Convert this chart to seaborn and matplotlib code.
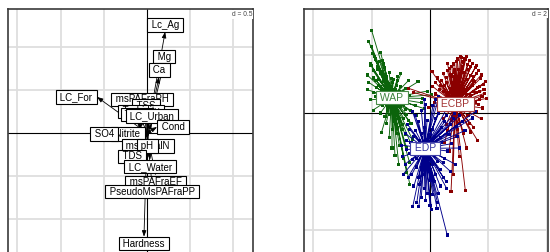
import numpy as np
import pandas as pd
import matplotlib
matplotlib.use("Agg")
import matplotlib.pyplot as plt
import matplotlib.colors as mcolors
import seaborn as sns

# ---------------- data: left panel (variable loadings) ----------------
var_names = ["Lc_Ag", "Mg", "Ca", "LC_For", "msPAFraPH", "TSS", "Turbidity", "Temp",
             "LC_Urban", "Cond", "Nitrite", "SO4", "msMetalN", "pH", "TDS",
             "LC_Water", "msPAFraEF", "PseudoMsPAFraPP", "Hardness"]
var_x = [0.21, 0.197, 0.139, -0.579, -0.058, -0.01, -0.07, -0.12,
         0.058, 0.116, -0.023, -0.33, 0.012, 0.005, -0.17,
         0.035, 0.10, 0.058, -0.035]
var_y = [1.17, 0.80, 0.648, 0.417, 0.31, 0.235, 0.17, 0.13,
         0.116, 0.069, -0.012, -0.012, -0.07, -0.07, -0.19,
         -0.31, -0.49, -0.60, -1.20]

# ---------------- data: right panel (site scores by group) ----------------
wap_points = [
    (-2.00, 2.83), (-2.10, 2.45), (-2.00, 2.28), (-1.69, 2.07), (-1.62, 1.80), (-1.90, 1.95),
    (-2.05, 1.70), (-1.80, 1.60), (-1.55, 1.55), (-1.95, 1.45), (-2.15, 1.30), (-1.70, 1.35),
    (-1.40, 1.40), (-1.00, 1.34), (-1.10, 1.24), (-0.41, 1.07), (-0.75, 1.10), (-1.25, 1.15),
    (-2.10, 1.05), (-1.85, 1.10), (-1.50, 1.00), (-1.15, 0.95), (-0.85, 0.85), (-2.15, 0.80),
    (-1.95, 0.70), (-1.65, 0.80), (-1.40, 0.70), (-1.05, 0.65), (-0.70, 0.60), (-0.25, 0.50),
    (-2.05, 0.45), (-1.80, 0.35), (-1.55, 0.40), (-1.20, 0.35), (-0.90, 0.30), (-0.50, 0.25),
    (-0.20, 0.15), (-1.95, 0.10), (-1.70, 0.00), (-1.45, 0.10), (-1.10, 0.05), (-0.80, -0.05),
    (-0.45, -0.10), (-1.66, -0.66), (-1.50, -0.35), (-1.25, -0.30), (-0.95, -0.40), (-0.65, -0.35),
    (-1.40, -0.85), (-1.15, -0.70), (-0.85, -0.75), (-1.30, -1.20), (-1.05, -1.10), (-0.80, -1.20),
    (-1.07, -1.76), (-0.90, -1.55), (-0.70, -1.70), (-0.69, -2.45), (-0.80, -2.05), (-1.20, -1.45),
    (0.05, 0.62), (-0.10, 0.75), (-1.60, 1.20), (-1.35, 0.90), (-1.75, 0.95), (-1.30, 0.55),
    (-1.00, 0.90), (-1.85, 0.55), (-1.45, 0.20), (-1.20, -0.10),
    (-1.88, 1.85), (-1.72, 1.75), (-1.58, 1.68), (-1.78, 1.50), (-1.62, 1.42), (-1.48, 1.25),
    (-1.33, 1.18), (-1.92, 1.20), (-1.76, 1.15), (-1.60, 1.08), (-1.44, 1.02), (-1.28, 1.05),
    (-1.12, 1.12), (-1.84, 0.88), (-1.68, 0.92), (-1.52, 0.85), (-1.36, 0.78), (-1.20, 0.82),
    (-1.04, 0.75), (-0.88, 0.70), (-1.74, 0.58), (-1.58, 0.62), (-1.42, 0.55), (-1.26, 0.48),
    (-1.10, 0.52), (-0.94, 0.45), (-0.78, 0.40), (-1.64, 0.25), (-1.48, 0.30), (-1.32, 0.20),
    (-1.16, 0.18), (-1.00, 0.22), (-0.84, 0.12), (-0.68, 0.10), (-1.54, -0.12), (-1.38, -0.05),
    (-1.22, -0.15), (-1.06, -0.20), (-0.90, -0.18), (-0.74, -0.25), (-1.28, -0.55), (-1.12, -0.50),
    (-0.96, -0.58), (-0.60, -0.90), (-0.55, -1.30), (-0.30, 0.35), (-2.02, 1.62), (-1.98, 2.05),
]

ecbp_points = [
    (1.03, 1.93), (1.20, 1.85), (1.35, 1.80), (1.55, 1.55), (1.45, 1.70), (0.90, 1.75),
    (0.75, 1.60), (1.90, 1.07), (1.75, 1.30), (1.65, 1.45), (0.07, 1.41), (0.25, 1.20),
    (0.45, 1.35), (0.60, 1.45), (1.10, 1.60), (1.30, 1.50), (1.50, 1.25), (1.85, 0.80),
    (1.95, 0.50), (1.80, 0.17), (1.70, 0.45), (0.35, 0.95), (0.55, 1.05), (0.80, 1.25),
    (1.05, 1.30), (1.25, 1.15), (1.45, 0.95), (1.60, 0.70), (0.20, 0.65), (0.45, 0.75),
    (0.70, 0.85), (0.95, 0.95), (1.20, 0.80), (1.40, 0.60), (1.55, 0.35), (0.15, 0.35),
    (0.40, 0.40), (0.65, 0.50), (0.90, 0.60), (1.15, 0.50), (1.35, 0.25), (1.60, 0.05),
    (-0.05, 0.20), (0.30, 0.10), (0.55, 0.15), (0.80, 0.20), (1.05, 0.10), (1.30, -0.10),
    (0.45, -0.20), (0.75, -0.25), (1.00, -0.35), (1.62, -0.93), (1.40, -0.65), (1.15, -0.70),
    (0.90, -0.80), (0.60, -0.60), (1.21, -2.66), (0.72, -2.69), (0.79, -2.10), (1.00, -1.50),
    (0.65, -1.30), (1.25, -1.20), (0.50, -1.00), (-0.75, 0.85), (-0.55, 0.70), (1.10, 1.75),
    (0.85, 1.50), (1.50, 1.10), (1.70, 0.90), (0.95, 1.10),
    (0.95, 1.85), (1.15, 1.72), (1.28, 1.65), (1.40, 1.58), (0.82, 1.68), (0.68, 1.52),
    (1.60, 1.35), (1.72, 1.18), (1.82, 0.98), (1.88, 0.68), (1.78, 0.58), (1.62, 0.88),
    (1.52, 1.08), (1.38, 1.28), (1.18, 1.40), (0.98, 1.48), (0.85, 1.40), (0.72, 1.30),
    (0.58, 1.22), (0.50, 0.95), (0.62, 0.70), (0.78, 1.05), (1.00, 1.15), (1.12, 1.02),
    (1.32, 0.85), (1.48, 0.75), (1.66, 0.30), (1.45, 0.45), (1.25, 0.62), (1.05, 0.75),
    (0.88, 0.42), (0.70, 0.30), (1.22, 0.30), (1.48, 0.15), (0.32, 0.80), (0.28, 0.50),
    (0.10, 0.90), (0.18, 1.05), (1.08, 1.90), (1.25, 1.95), (0.60, 1.70), (1.70, 0.75),
    (1.58, 1.62), (0.40, 1.10), (1.35, -0.35), (0.95, -0.55), (0.55, -0.40), (1.50, -0.50),
    (1.75, -0.20),
]

edp_points = [
    (0.59, -4.18), (-0.59, -3.20), (0.00, -3.17), (-0.45, -3.05), (-0.30, -2.90), (0.25, -3.05),
    (0.10, -2.80), (-0.20, -2.60), (-0.55, -2.50), (0.35, -2.50), (0.55, -2.35), (-0.75, -2.20),
    (-0.40, -2.20), (0.00, -2.30), (0.20, -2.10), (0.70, -2.00), (-0.92, -2.10), (-0.62, -2.10),
    (-0.25, -1.85), (0.10, -1.75), (0.45, -1.70), (0.86, -1.75), (-0.95, -1.50), (-0.70, -1.40),
    (-0.45, -1.55), (0.30, -1.40), (0.60, -1.30), (1.00, -1.20), (-0.97, -1.10), (-0.80, -0.95),
    (-0.55, -0.80), (-0.30, -0.70), (0.00, -0.75), (0.35, -0.85), (0.65, -0.75), (1.20, -0.60),
    (1.45, -0.17), (1.10, -0.30), (-0.76, -0.40), (-0.40, -0.30), (-0.10, -0.25), (0.20, -0.20),
    (0.55, -0.10), (0.85, 0.00), (-0.30, 0.10), (0.10, 0.25), (0.40, 0.35), (-0.60, 0.05),
    (-0.20, 0.45), (0.30, 0.55), (1.55, 0.05), (-0.85, -0.70), (0.90, -0.45), (-0.15, -1.00),
    (0.15, -1.05), (-0.50, -1.20), (0.58, -2.60), (-0.38, -3.20), (0.24, -3.26), (-0.05, -1.40),
    (-0.70, -0.55), (-0.50, -0.60), (-0.20, -0.50), (0.10, -0.55), (0.40, -0.50), (0.70, -0.40),
    (-0.65, -1.00), (-0.35, -0.95), (0.05, -0.90), (0.40, -1.00), (0.75, -1.05), (-0.80, -1.25),
    (-0.30, -1.30), (0.00, -1.35), (0.20, -1.25), (0.50, -1.55), (-0.60, -1.60), (-0.10, -1.60),
    (0.25, -1.65), (-0.45, -1.85), (0.00, -1.95), (0.35, -1.95), (-0.20, -2.10), (0.15, -2.35),
    (-0.35, -2.45), (0.45, -2.20), (-0.10, -2.75), (0.30, -2.75), (-0.15, -3.00), (0.05, -3.30),
    (0.80, -0.20), (0.30, 0.00), (-0.50, -0.10), (0.60, 0.20), (1.00, -0.10), (-0.85, -1.75),
    (0.95, -0.80), (-0.15, 0.30), (0.20, 0.45), (0.50, -0.30),
]

group_names = ["WAP", "ECBP", "EDP"]
centroid_x = [-1.31, 0.86, -0.17]
centroid_y = [0.52, 0.31, -1.21]
group_colors = ["#0b640b", "#8b0000", "#00008b"]

# ---------------- style ----------------
sns.set_style("white")
plt.rcParams["font.family"] = ["Liberation Sans", "DejaVu Sans"]

W, H = 550, 252
fig = plt.figure(figsize=(W / 100, H / 100), dpi=100)


def px_axes(l, t, w, h):
    return fig.add_axes([l / W, 1 - (t + h) / H, w / W, h / H])


def lighten(c, f):
    rgb = np.array(mcolors.to_rgb(c))
    return tuple(rgb + (1 - rgb) * f)


def style_axes(ax, step, xlim, ylim, dtext):
    ax.set_xlim(xlim)
    ax.set_ylim(ylim)
    xs = np.arange(np.ceil(xlim[0] / step) * step, xlim[1], step)
    ys = np.arange(np.ceil(ylim[0] / step) * step, ylim[1], step)
    for v in xs:
        if abs(v) > 1e-9:
            ax.axvline(v, color="#dedede", lw=1.3, zorder=0)
    for v in ys:
        if abs(v) > 1e-9:
            ax.axhline(v, color="#dedede", lw=1.3, zorder=0)
    ax.axvline(0, color="black", lw=0.8, zorder=1)
    ax.axhline(0, color="black", lw=0.8, zorder=1)
    ax.set_xticks([])
    ax.set_yticks([])
    for s in ax.spines.values():
        s.set_visible(True)
        s.set_color("#3a3a3a")
        s.set_linewidth(1.2)
    ax.text(0.997, 0.992, dtext, transform=ax.transAxes, ha="right", va="top",
            fontsize=4.8, color="#444444", zorder=50,
            bbox=dict(fc="white", ec="none", pad=0.4))


# ---------------- left panel ----------------
ax1 = px_axes(8, 9, 245, 247)
style_axes(ax1, 0.5, (-1.609, 1.227), (-1.424, 1.435), "d = 0.5")

for x, y in zip(var_x, var_y):
    ax1.annotate("", xy=(x, y), xytext=(0, 0), zorder=3,
                 arrowprops=dict(arrowstyle="-|>,head_length=0.35,head_width=0.13",
                                 lw=0.6, color="black", shrinkA=0, shrinkB=0))

for i, (name, x, y) in enumerate(zip(var_names, var_x, var_y)):
    off = 1.4
    if abs(x) > abs(y):
        ha, va = ("left" if x > 0 else "right"), "center"
        xy_off = (off if x > 0 else -off, 0)
    else:
        ha, va = "center", ("bottom" if y > 0 else "top")
        xy_off = (0, off if y > 0 else -off)
    ax1.annotate(" " + name + " ", xy=(x, y), xytext=xy_off, textcoords="offset points",
                 ha=ha, va=va, fontsize=7.0, color="black", zorder=10 + i,
                 bbox=dict(boxstyle="square,pad=0.16", fc="white", ec="black", lw=0.8))

# ---------------- right panel ----------------
ax2 = px_axes(304, 9, 244, 245)
style_axes(ax2, 2.0, (-4.315, 4.041), (-4.829, 3.562), "d = 2")

frames = []
for g, pts in zip(group_names, [wap_points, ecbp_points, edp_points]):
    arr = np.array(pts)
    frames.append(pd.DataFrame({"x": arr[:, 0], "y": arr[:, 1], "group": g}))
df = pd.concat(frames, ignore_index=True)
palette = dict(zip(group_names, group_colors))

for k, g in enumerate(group_names):
    sub = df[df["group"] == g]
    cx, cy = centroid_x[k], centroid_y[k]
    n = len(sub)
    lx = np.column_stack([np.full(n, cx), sub["x"].values, np.full(n, np.nan)]).ravel()
    ly = np.column_stack([np.full(n, cy), sub["y"].values, np.full(n, np.nan)]).ravel()
    ax2.plot(lx, ly, color=group_colors[k], lw=0.65, zorder=2 + k)
    sns.scatterplot(data=sub, x="x", y="y", hue="group", palette=palette, marker="s",
                    s=5, linewidth=0, legend=False, ax=ax2, zorder=2 + k)

for k, g in enumerate(group_names):
    ax2.text(centroid_x[k], centroid_y[k], " " + g + " ", ha="center", va="center",
             fontsize=7.5, color=lighten(group_colors[k], 0.2), zorder=20,
             bbox=dict(boxstyle="square,pad=0.15", fc="white",
                       ec=lighten(group_colors[k], 0.25), lw=0.8))

ax2.set_xlabel("")
ax2.set_ylabel("")

fig.savefig("out.png", dpi=100)
